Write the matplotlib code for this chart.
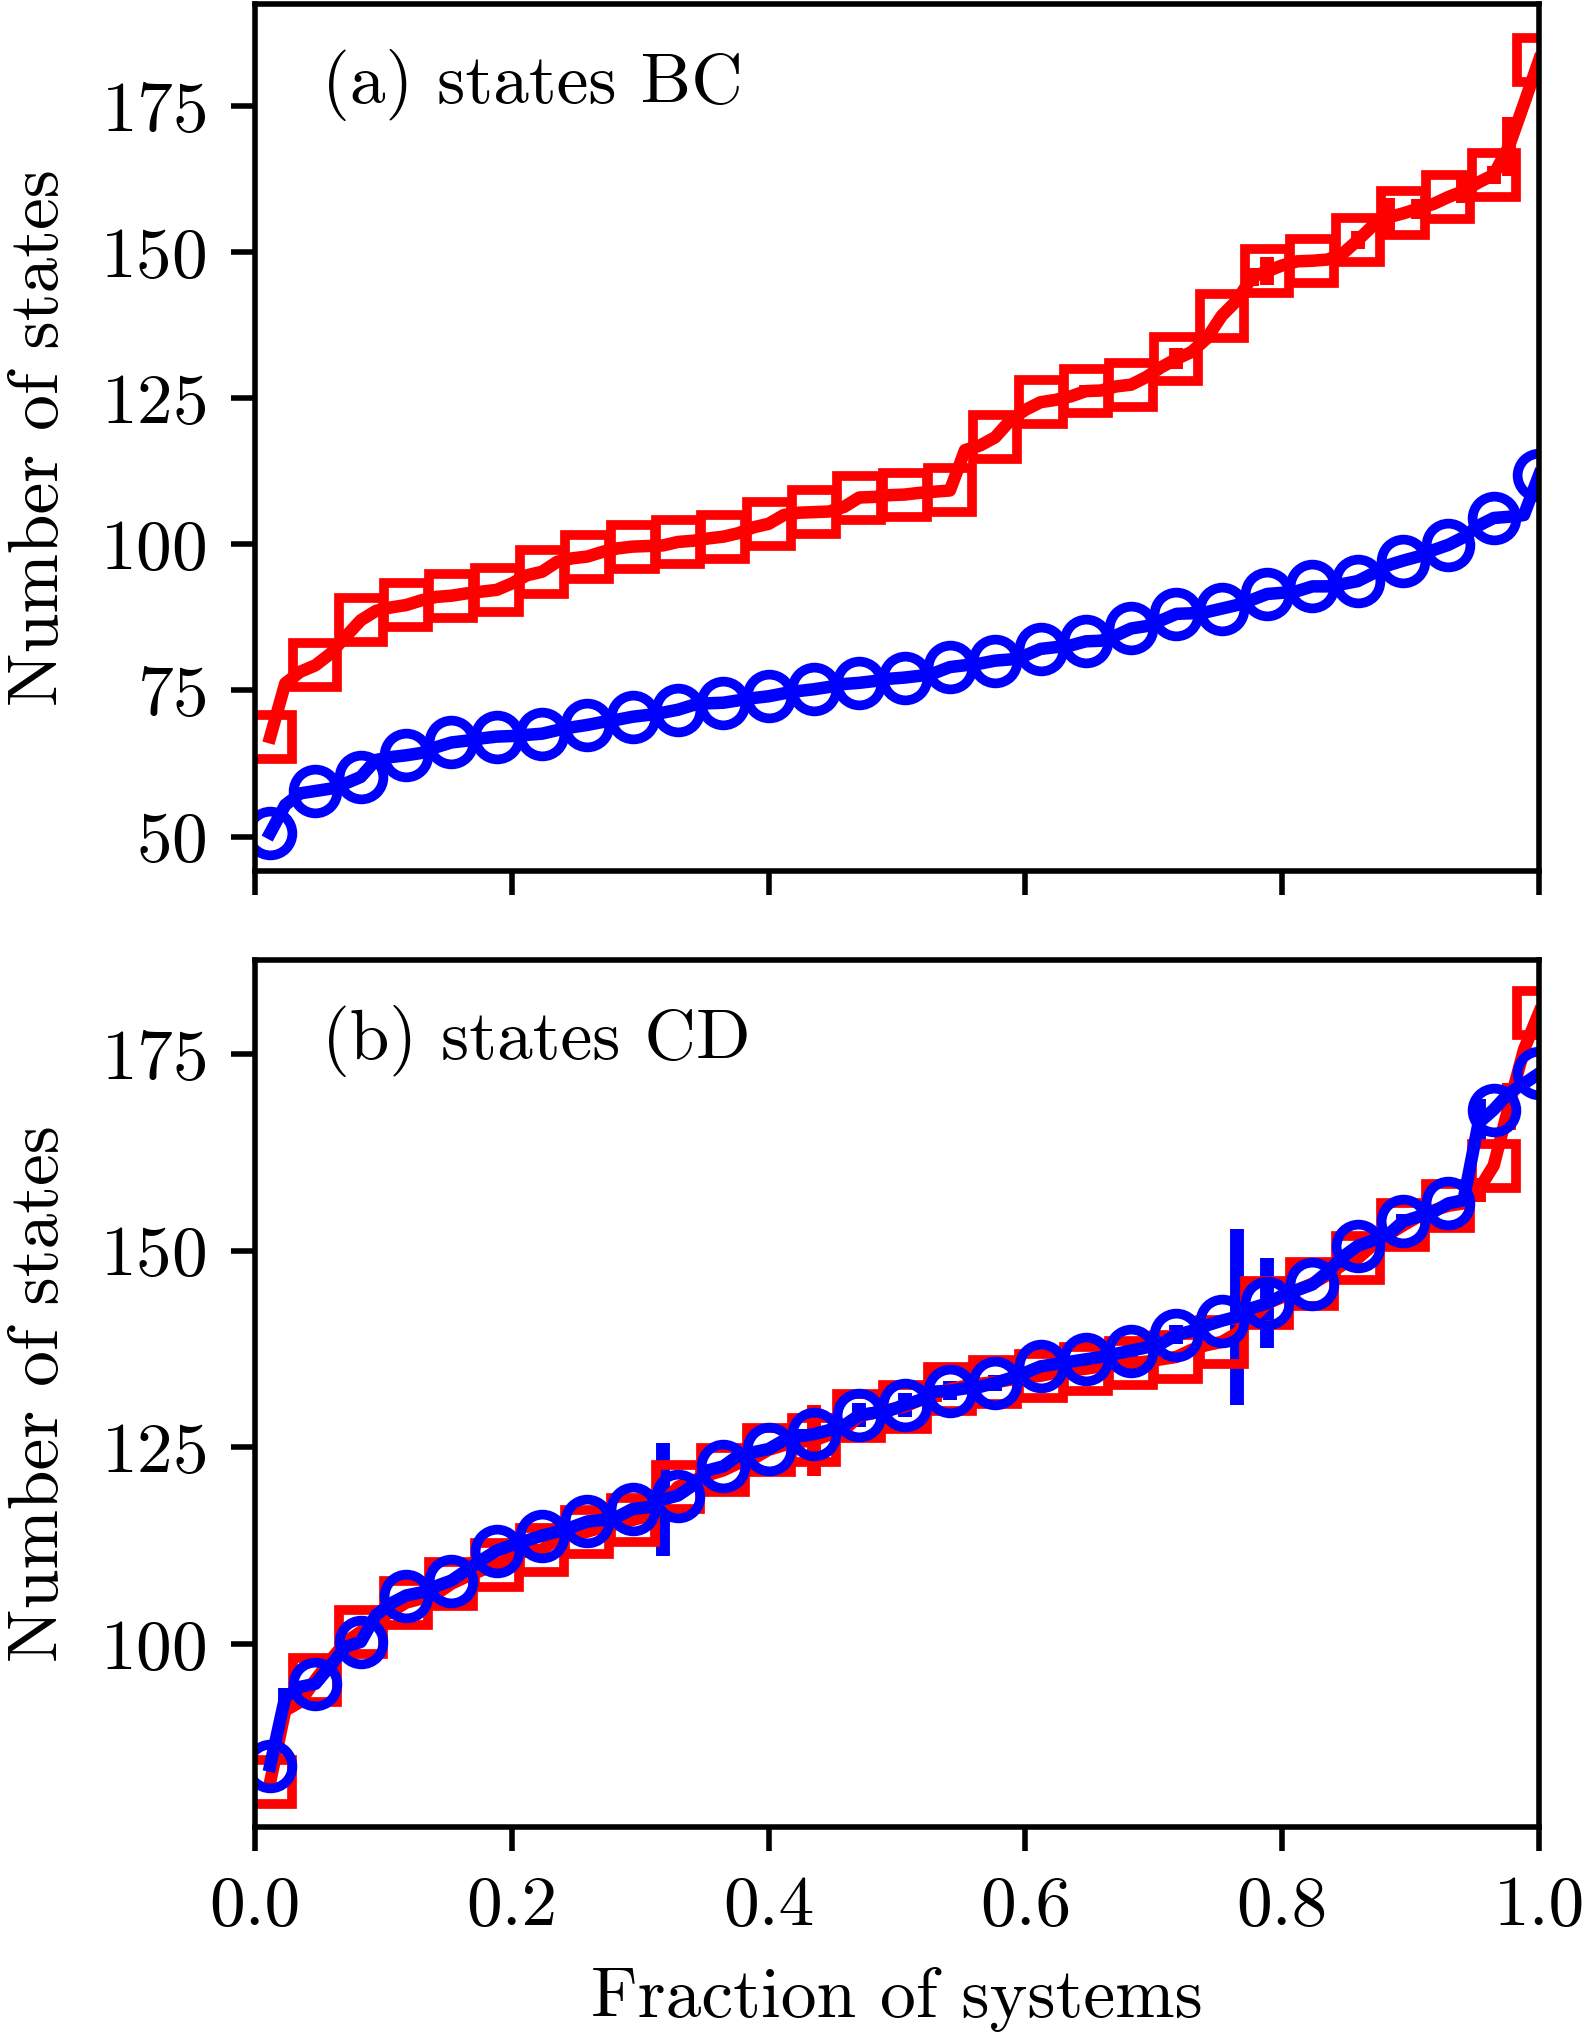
import numpy as np
import matplotlib
matplotlib.use("Agg")
import matplotlib.pyplot as plt

plt.rcParams.update({
    "font.family": "serif",
    "font.serif": ["cmr10"],
    "mathtext.fontset": "cm",
    "axes.formatter.use_mathtext": True,
    "axes.unicode_minus": False,
    "font.size": 10.3,
})

# ---------------- data ----------------
n_systems = 85
fraction = np.arange(1, n_systems + 1) / n_systems   # rank / N

bc_red = [67.0, 76.2, 78.2, 79.3, 81.3, 84.2, 87.0, 88.6, 89.2, 89.6,
          90.4, 91.0, 91.2, 91.6, 91.9, 92.2, 93.3, 94.7, 95.3, 97.0,
          97.6, 97.9, 98.7, 99.3, 99.6, 99.7, 99.8, 100.4, 100.6, 101.0,
          101.3, 101.9, 102.9, 103.5, 105.0, 105.4, 105.5, 105.6, 106.4, 108.0,
          108.1, 108.4, 108.5, 108.8, 109.0, 109.2, 116.1, 116.9, 118.3, 121.2,
          123.0, 124.3, 124.7, 125.3, 126.2, 126.3, 127.0, 127.3, 128.6, 130.3,
          131.7, 132.9, 135.2, 139.1, 141.7, 145.7, 146.7, 147.7, 148.4, 148.5,
          148.7, 149.7, 152.0, 154.5, 155.9, 156.6, 157.4, 158.2, 159.4, 160.4,
          161.9, 163.2, 168.0, 175.3, 182.8]
bc_red_err = [0, 0, 0, 0, 0, 0, 0, 0, 0, 0,
              0, 0, 0, 0, 0, 0, 0, 0, 0, 0,
              0, 0, 0, 0, 0, 0, 0, 0, 0, 0,
              0, 0, 0, 0, 0, 0, 0, 0.6, 0, 0,
              0, 0, 0, 0, 0, 0, 0, 0, 0, 0,
              0, 0, 0, 0, 1.0, 0, 0, 0, 0, 0,
              1.8, 0, 0, 0, 0, 1.5, 2.4, 0, 0, 0,
              0, 0, 1.5, 0, 3.4, 0, 1.7, 0, 0, 2.0,
              0, 1.5, 5.0, 0, 0]

bc_blue = [50.6, 55.4, 57.4, 57.8, 58.2, 59.1, 60.2, 63.1, 63.6, 63.9,
           64.3, 65.3, 66.1, 66.4, 66.8, 67.1, 67.2, 67.4, 67.6, 68.2,
           68.7, 69.1, 69.6, 70.0, 70.5, 70.8, 71.2, 71.7, 72.5, 72.8,
           72.9, 73.3, 73.7, 74.0, 74.5, 74.9, 75.2, 75.6, 76.1, 76.3,
           76.6, 77.0, 77.2, 77.5, 78.0, 79.0, 79.3, 79.6, 80.1, 80.3,
           81.0, 82.1, 82.4, 82.7, 83.4, 83.5, 84.4, 85.6, 86.0, 87.0,
           88.1, 88.2, 88.4, 89.0, 89.6, 90.5, 91.5, 91.7, 92.0, 92.8,
           92.8, 93.2, 93.7, 95.0, 96.4, 97.2, 97.9, 99.0, 99.9, 101.2,
           103.2, 104.5, 104.7, 105.0, 111.8]
bc_blue_err = [0] * 85

cd_red = [82.5, 91.6, 92.7, 95.5, 98.0, 100.3, 101.6, 103.0, 104.1, 105.3,
          105.8, 106.4, 107.7, 108.6, 109.4, 110.1, 111.1, 111.9, 112.0, 113.4,
          113.9, 114.3, 114.9, 115.3, 115.8, 116.3, 117.9, 120.0, 120.8, 121.5,
          122.1, 123.0, 123.6, 124.7, 125.3, 125.7, 125.9, 126.6, 127.2, 129.0,
          129.4, 129.8, 130.2, 131.0, 131.8, 132.4, 132.8, 133.1, 133.3, 133.6,
          133.9, 134.1, 134.5, 134.8, 135.0, 135.3, 135.5, 135.7, 135.9, 136.2,
          136.5, 137.4, 138.0, 138.4, 139.5, 141.4, 143.3, 144.1, 145.0, 145.8,
          146.9, 148.2, 149.0, 150.7, 152.0, 153.2, 154.3, 155.1, 155.7, 156.0,
          157.7, 160.8, 168.3, 175.5, 180.2]
cd_red_err = [0, 0, 0, 0, 0, 0, 0, 0, 0, 0,
              0, 0, 0, 0, 0, 0, 0, 0, 0, 0,
              0, 0, 0, 0, 0, 0, 0, 0, 0, 0,
              0, 0, 0, 0, 0, 0, 4.5, 0, 0, 1.0,
              0, 0, 0, 0, 1.0, 0, 0, 0, 0, 0,
              0, 0, 0, 0, 0, 0, 0, 0, 0, 0,
              0, 0, 0, 0, 0, 0, 0, 0, 0, 0,
              0, 0, 0, 0, 0, 0, 0, 0, 0, 0,
              1.5, 0, 3.0, 0, 0]

cd_blue = [84.6, 93.3, 94.6, 95.0, 97.3, 99.7, 100.3, 103.7, 105.2, 106.2,
           106.6, 107.4, 108.1, 109.4, 110.7, 111.9, 112.6, 113.2, 113.8, 114.3,
           114.9, 115.6, 115.8, 116.2, 117.2, 117.4, 118.4, 118.9, 120.2, 122.1,
           122.6, 124.0, 124.4, 124.8, 125.9, 126.4, 126.7, 127.2, 127.8, 129.1,
           129.4, 129.7, 130.4, 131.0, 132.1, 132.2, 132.5, 132.7, 133.2, 133.8,
           134.5, 135.3, 135.6, 135.9, 136.2, 136.5, 136.9, 137.3, 137.7, 138.2,
           139.3, 139.8, 140.5, 141.1, 141.6, 142.7, 143.3, 144.3, 145.0, 145.7,
           147.3, 149.2, 150.6, 151.3, 152.0, 153.7, 154.3, 154.9, 156.0, 156.4,
           166.2, 167.9, 170.0, 171.2, 172.5]
cd_blue_err = [0, 1.2, 0, 0, 0, 0, 0, 0, 0, 0,
               0, 0, 0, 0, 0, 0, 0, 0, 0, 0,
               0, 0, 0, 0, 0, 0, 7.2, 0, 0, 0,
               0, 0, 0, 0, 0, 1.0, 0, 0, 0, 1.5,
               0, 0, 1.5, 0, 0, 1.2, 0, 0, 1.0, 0,
               0, 0, 0, 0, 0, 0, 0, 1.0, 0, 0,
               1.2, 0, 0, 0, 11.2, 0, 5.7, 0, 0, 0,
               0, 0, 0, 0, 0, 1.0, 0, 0, 0, 0,
               3.0, 0, 0, 0, 0]

panel_labels = ["(a) states BC", "(b) states CD"]
x_ticks = [0.0, 0.2, 0.4, 0.6, 0.8, 1.0]
y_ticks_a = [50, 75, 100, 125, 150, 175]
y_ticks_b = [100, 125, 150, 175]

# ---------------- figure ----------------
fig = plt.figure(figsize=(3.168, 4.08), dpi=500)
ax1 = fig.add_axes([0.161, 0.573, 0.8106, 0.425])
ax2 = fig.add_axes([0.161, 0.1044, 0.8106, 0.425])

style = dict(lw=1.8, ms=6.3, mew=1.4, mfc="none", markevery=3,
             capsize=0, elinewidth=2.0)


def draw(ax, y_red, e_red, y_blue, e_blue, red_first=True):
    series = [(y_red, e_red, "red", "s"), (y_blue, e_blue, "blue", "o")]
    if not red_first:
        series = series[::-1]
    for y, e, c, m in series:
        ax.errorbar(fraction, y, yerr=e, color=c, ecolor=c, mec=c,
                    marker=m, **style)


draw(ax1, bc_red, bc_red_err, bc_blue, bc_blue_err, red_first=False)
draw(ax2, cd_red, cd_red_err, cd_blue, cd_blue_err, red_first=True)

ax1.set_xlim(0, 1)
ax2.set_xlim(0, 1)
ax1.set_ylim(44.1, 192.4)
ax2.set_ylim(76.8, 186.9)
ax1.set_xticks(x_ticks)
ax2.set_xticks(x_ticks)
ax1.set_yticks(y_ticks_a)
ax2.set_yticks(y_ticks_b)
ax1.tick_params(labelbottom=False)
ax2.set_xticklabels(["%.1f" % t for t in x_ticks])

ax1.set_ylabel("Number of states")
ax2.set_ylabel("Number of states")
ax2.set_xlabel("Fraction of systems")

ax1.text(0.052, 0.886, panel_labels[0], transform=ax1.transAxes,
         ha="left", va="baseline")
ax2.text(0.052, 0.886, panel_labels[1], transform=ax2.transAxes,
         ha="left", va="baseline")

fig.savefig("out.png", dpi=500)
